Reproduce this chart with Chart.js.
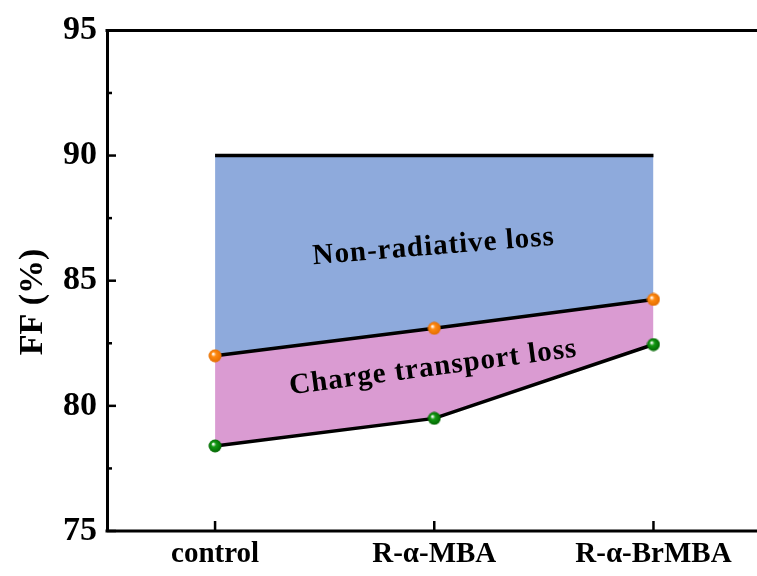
<!DOCTYPE html>
<html>
<head>
<meta charset="utf-8">
<script src="https://cdn.jsdelivr.net/npm/chart.js@4.4.1/dist/chart.umd.min.js"></script>
<style>
  html, body { margin: 0; padding: 0; background: #fff; }
  #wrap { width: 757px; height: 576px; }
</style>
</head>
<body>
<div id="wrap"><canvas id="ffChart" width="757" height="576"></canvas></div>
<script>
// categories and FF values (%)
const categories = ['control', 'R-α-MBA', 'R-α-BrMBA'];
const ffLimit = [90, 90, 90];          // upper bound line
const ffNoCharge = [82.0, 83.1, 84.25]; // orange points
const ffMeasured = [78.4, 79.5, 82.45]; // green points
const yTicks = [75, 80, 85, 90, 95];

const FONT = '"Liberation Serif", "Times New Roman", serif';

// little shaded sphere for the markers
function sphere(color, dark) {
    const c = document.createElement('canvas');
    c.width = 14; c.height = 14;
    const g = c.getContext('2d');
    const grad = g.createRadialGradient(5, 5, 0.5, 7, 7, 7);
    grad.addColorStop(0, '#ffffff');
    grad.addColorStop(0.3, color);
    grad.addColorStop(1, dark);
    g.fillStyle = grad;
    g.beginPath();
    g.arc(7, 7, 6.5, 0, Math.PI * 2);
    g.fill();
    return c;
}

const toPts = (arr) => arr.map((v, i) => ({ x: i, y: v }));

// frame lines, inward ticks, y title and the two area labels
const extras = {
    id: 'extras',
    afterDraw(chart) {
        const { ctx, chartArea, scales } = chart;
        const x = scales.x, y = scales.y;
        ctx.save();
        ctx.strokeStyle = '#000';
        ctx.lineWidth = 3;
        // top frame and bottom axis, both running on to the edge
        ctx.beginPath();
        ctx.moveTo(chartArea.left - 1.5, chartArea.top);
        ctx.lineTo(chart.width, chartArea.top);
        ctx.moveTo(chartArea.left - 1.5, chartArea.bottom);
        ctx.lineTo(chart.width, chartArea.bottom);
        ctx.stroke();
        // y ticks (major + minor)
        ctx.lineWidth = 2.5;
        for (let v = 75; v <= 95; v += 2.5) {
            const py = y.getPixelForValue(v);
            const len = v % 5 === 0 ? 9 : 5;
            ctx.beginPath();
            ctx.moveTo(chartArea.left, py);
            ctx.lineTo(chartArea.left + len, py);
            ctx.stroke();
        }
        // x ticks
        categories.forEach((c, i) => {
            const px = x.getPixelForValue(i);
            ctx.beginPath();
            ctx.moveTo(px, chartArea.bottom);
            ctx.lineTo(px, chartArea.bottom - 10);
            ctx.stroke();
        });
        // y axis title
        ctx.fillStyle = '#000';
        ctx.font = 'bold 34px ' + FONT;
        ctx.textAlign = 'center';
        ctx.textBaseline = 'middle';
        ctx.translate(33, 302);
        ctx.rotate(-Math.PI / 2);
        ctx.fillText('FF (%)', 0, 0);
        ctx.restore();
    },
    afterDatasetsDraw(chart) {
        const { ctx, scales } = chart;
        const x = scales.x, y = scales.y;
        ctx.save();
        ctx.fillStyle = '#000';
        ctx.font = 'bold 29px ' + FONT;
        ctx.textAlign = 'center';
        ctx.textBaseline = 'alphabetic';
        ctx.letterSpacing = '1px';
        // Non-radiative loss
        ctx.save();
        ctx.translate(x.getPixelForValue(1), y.getPixelForValue(86.05));
        ctx.rotate(-4.6 * Math.PI / 180);
        ctx.fillText('Non-radiative loss', 0, 0);
        ctx.restore();
        // Charge transport loss
        ctx.save();
        ctx.translate(x.getPixelForValue(1), y.getPixelForValue(81.22));
        ctx.rotate(-7.5 * Math.PI / 180);
        ctx.fillText('Charge transport loss', 0, 0);
        ctx.restore();
        ctx.restore();
    }
};

const ctx = document.getElementById('ffChart').getContext('2d');
new Chart(ctx, {
    type: 'line',
    data: {
        datasets: [
            {
                label: 'limit',
                data: toPts(ffLimit),
                borderColor: '#000',
                borderWidth: 3.5,
                pointRadius: 0,
                fill: '+1',
                backgroundColor: '#8eaadc',
            },
            {
                label: 'no charge loss',
                data: toPts(ffNoCharge),
                borderColor: '#000',
                borderWidth: 3.5,
                pointStyle: sphere('#ff8a10', '#e06a00'),
                pointRadius: 6,
                fill: '+1',
                backgroundColor: '#da9bd2',
            },
            {
                label: 'measured',
                data: toPts(ffMeasured),
                borderColor: '#000',
                borderWidth: 3.5,
                pointStyle: sphere('#139a13', '#006000'),
                pointRadius: 6,
                fill: false,
            },
        ],
    },
    options: {
        responsive: false,
        animation: false,
        layout: { padding: { top: 19, right: 0, left: 0, bottom: 0 } },
        plugins: {
            legend: { display: false },
            tooltip: { enabled: false },
            filler: { drawTime: 'beforeDatasetsDraw' },
        },
        scales: {
            x: {
                type: 'linear',
                min: -0.493,
                max: 2.429,
                afterBuildTicks: (scale) => {
                    scale.ticks = categories.map((c, i) => ({ value: i }));
                },
                afterFit: (scale) => { scale.height = 45; },
                ticks: {
                    callback: (v) => categories[v],
                    color: '#000',
                    padding: 6,
                    font: { family: FONT, size: 29, weight: 'bold' },
                },
                grid: { drawOnChartArea: false, drawTicks: false },
                border: { display: false },
            },
            y: {
                min: 75,
                max: 95,
                afterBuildTicks: (scale) => {
                    scale.ticks = yTicks.map((v) => ({ value: v }));
                },
                afterFit: (scale) => { scale.width = 107; },
                ticks: {
                    color: '#000',
                    padding: 10,
                    font: { family: FONT, size: 34, weight: 'bold' },
                },
                grid: { drawOnChartArea: false, drawTicks: false },
                border: { color: '#000', width: 3 },
            },
        },
    },
    plugins: [extras],
});
</script>
</body>
</html>
